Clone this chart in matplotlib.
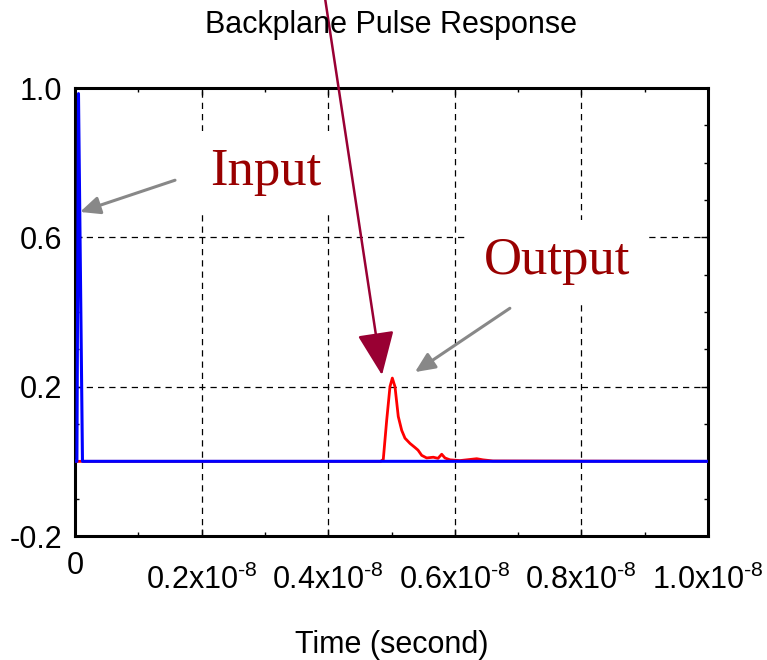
import matplotlib
matplotlib.use("Agg")
import matplotlib.pyplot as plt
import matplotlib.transforms as mtransforms
from matplotlib.ticker import FixedLocator, MultipleLocator

# Time in units of 1e-8 s
input_t = [0.0, 0.003, 0.0055, 0.0118, 1.0]
input_v = [0.0, 0.0, 0.985, 0.0, 0.0]

output_t = [0.0, 0.483, 0.487, 0.4924, 0.4976, 0.5013, 0.5055, 0.5107, 0.5161,
            0.5213, 0.5292, 0.5371, 0.5419, 0.5477, 0.5556, 0.566, 0.5735,
            0.5793, 0.5845, 0.5924, 0.6082, 0.6346, 0.6445, 0.6603, 1.0]
output_v = [0.0, 0.0, 0.005, 0.11, 0.20, 0.223, 0.20, 0.12, 0.083,
            0.062, 0.048, 0.037, 0.03, 0.016, 0.009, 0.011, 0.008,
            0.019, 0.009, 0.004, 0.002, 0.007, 0.004, 0.001, 0.0]

x_major = [0.0, 0.2, 0.4, 0.6, 0.8, 1.0]
x_labels = ["0", r"0.2x10$^{\text{-8}}$", r"0.4x10$^{\text{-8}}$",
            r"0.6x10$^{\text{-8}}$", r"0.8x10$^{\text{-8}}$",
            r"1.0x10$^{\text{-8}}$"]
y_major = [-0.2, 0.2, 0.6, 1.0]
y_labels = ["-0.2", "0.2", "0.6", "1.0"]

plt.rcParams["font.family"] = ["Liberation Sans", "DejaVu Sans"]
plt.rcParams["mathtext.fontset"] = "custom"
plt.rcParams["mathtext.rm"] = "Liberation Sans"
plt.rcParams["mathtext.default"] = "regular"

fig = plt.figure(figsize=(7.67, 6.6), dpi=100)
ax = fig.add_axes([75 / 767, 1 - 536 / 660, 633 / 767, 448 / 660])

ax.plot(output_t, output_v, color="#ff0000", lw=2.0, zorder=3)
ax.plot(input_t, input_v, color="#0000ff", lw=2.2, zorder=4)

ax.set_xlim(0, 1.0)
ax.set_ylim(-0.2, 1.0)
ax.xaxis.set_major_locator(FixedLocator(x_major))
ax.set_xticklabels(x_labels)
ax.xaxis.set_minor_locator(MultipleLocator(0.1))
ax.yaxis.set_major_locator(FixedLocator(y_major))
ax.set_yticklabels(y_labels)
ax.yaxis.set_minor_locator(MultipleLocator(0.1))

ax.tick_params(which="both", direction="in", top=True, right=True, width=1)
ax.tick_params(which="major", length=5, labelsize=22)
ax.tick_params(which="minor", length=3)
ax.tick_params(axis="x", pad=11)
ax.tick_params(axis="y", pad=9)
for s in ax.spines.values():
    s.set_linewidth(2.2)

# the exponent labels sit a bit lower than the "0"
shift = mtransforms.ScaledTranslation(0, -13 / 100, fig.dpi_scale_trans)
for tick in ax.xaxis.get_major_ticks()[1:]:
    tick.label1.set_transform(tick.label1.get_transform() + shift)

ax.grid(True, which="major", color="black", linestyle=(0, (5, 4)), lw=0.9)

ax.set_xlabel("Time (second)", fontsize=22)
ax.xaxis.set_label_coords(0.5, -0.21)
fig.text(0.51, 1 - 10 / 660, "Backplane Pulse Response", fontsize=22,
         ha="center", va="top")

# labels with white boxes
box = dict(facecolor="white", edgecolor="none", pad=12)
ax.text(0.302, 0.775, "Input", family=["Liberation Serif"], fontsize=38,
        color="#990000", ha="center", va="center", bbox=box, zorder=5)
ax.text(0.761, 0.537, "Output", family=["Liberation Serif"], fontsize=38,
        color="#990000", ha="center", va="center", bbox=box, zorder=5)

grey = dict(arrowstyle="-|>,head_length=1.0,head_width=0.45", color="#888888",
            lw=2.2, mutation_scale=12, shrinkA=0, shrinkB=0)
ax.annotate("", xy=(0.0079, 0.668), xytext=(0.158, 0.753), arrowprops=grey,
            zorder=6)
ax.annotate("", xy=(0.537, 0.239), xytext=(0.687, 0.41), arrowprops=grey,
            zorder=6)

ax.annotate("", xy=(0.485, 0.231), xytext=(325, 662), textcoords="figure pixels",
            annotation_clip=False, zorder=7,
            arrowprops=dict(arrowstyle="-|>,head_length=2.7,head_width=1.15",
                            color="#990033", lw=1.8, mutation_scale=10,
                            shrinkA=0, shrinkB=0))

fig.savefig("out.png", dpi=100)
